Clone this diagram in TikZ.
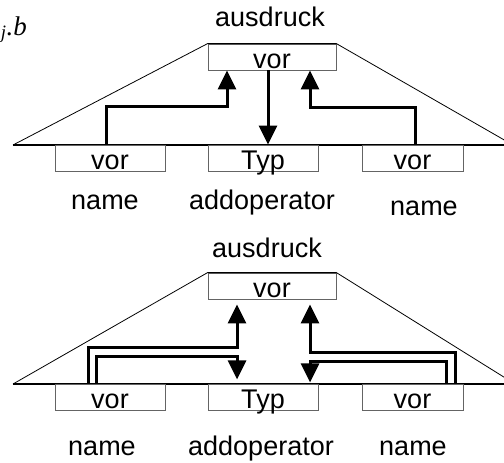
\documentclass[tikz,border=0pt]{standalone}
\usepackage{fontspec}
\setmainfont{Liberation Sans}
\newfontfamily\serifit{Liberation Serif}
\usetikzlibrary{arrows.meta, calc}
\definecolor{boxgray}{RGB}{100,100,100}

\begin{document}
\begin{tikzpicture}[
				x=1pt, y=-1pt,
				slot/.style={rectangle, draw=boxgray, line width=0.8pt, minimum height=26pt, inner sep=0pt, text height=22pt, text depth=0pt, font=\fontsize{27}{30}\selectfont},
				nametext/.style={inner sep=0pt, anchor=base, font=\fontsize{27}{30}\selectfont},
				flow/.style={-{Triangle[length=19pt,width=18pt]}, line width=3pt},
				edge/.style={line width=0.8pt},
				ground/.style={line width=1.5pt}
			]
			\useasboundingbox (0,0) rectangle (504,463);

			% Fragment at the left edge
			\node (frag) [inner sep=0pt, anchor=base east, font=\fontsize{27}{30}\selectfont\serifit\itshape] at (27,35) {\textsubscript{j}.b};

			% Upper tree: ausdruck
			\node (ausdruckA) [nametext] at (270,27) {ausdruck};
			\node (vorTA) [slot, minimum width=128pt] at (272,57) {vor};
			\coordinate (baseLA) at (13,145);
			\coordinate (baseRA) at (513,145);
			\draw [edge] (baseLA) -- (vorTA.north west) -- (vorTA.north east) -- (baseRA);
			\draw [ground] (baseLA) -- (baseRA);

			% Upper tree: children
			\node (vorLA) [slot, minimum width=110pt] at (110,158) {vor};
			\node (typA) [slot, minimum width=110pt] at (263,158) {Typ};
			\node (vorRA) [slot, minimum width=101pt] at (412.5,158) {vor};
			\node (nameLA) [nametext] at (105,209) {name};
			\node (addopA) [nametext] at (262,209) {addoperator};
			\node (nameRA) [nametext] at (424,215) {name};

			% Upper tree: attribute flow
			\coordinate (midA) at ($(vorTA.south)+(-4,0)$);
			\draw [flow] ($(vorLA.north)+(-4,0)$) |- ($(vorTA.south)+(-45,36)$) -- ($(vorTA.south)+(-45,0)$);
			\draw [flow] (midA) -- (midA |- typA.north);
			\draw [flow] ($(vorRA.north)+(2.5,0)$) |- ($(vorTA.south)+(38,37)$) -- ($(vorTA.south)+(38,0)$);

			% Lower tree: ausdruck
			\node (ausdruckB) [nametext] at (267,257) {ausdruck};
			\node (vorTB) [slot, minimum width=128pt] at (272,286) {vor};
			\coordinate (baseLB) at (13,384);
			\coordinate (baseRB) at (515,384);
			\draw [edge] (baseLB) -- (vorTB.north west) -- (vorTB.north east) -- (baseRB);
			\draw [ground] (baseLB) -- (baseRB);

			% Lower tree: children
			\node (vorLB) [slot, minimum width=110pt] at (110,397) {vor};
			\node (typB) [slot, minimum width=110pt] at (263,397) {Typ};
			\node (vorRB) [slot, minimum width=101pt] at (412.5,397) {vor};
			\node (nameLB) [nametext] at (102,455) {name};
			\node (addopB) [nametext] at (261,455) {addoperator};
			\node (nameRB) [nametext] at (413,455) {name};

			% Lower tree: attribute flow (up and back down)
			\draw [flow] ($(vorLB.north)+(-22,0)$) |- ($(vorTB.south)+(-35,48)$) -- ($(vorTB.south)+(-35,5)$);
			\draw [flow] ($(vorLB.north)+(-14,0)$) |- ($(vorTB.south)+(-35,57)$) -- ($(vorTB.south)+(-35,80)$);
			\draw [flow] ($(vorRB.north)+(42.5,0)$) |- ($(vorTB.south)+(38,53)$) -- ($(vorTB.south)+(38,5)$);
			\draw [flow] ($(vorRB.north)+(33.5,0)$) |- ($(vorTB.south)+(38,62)$) -- ($(vorTB.south)+(38,83)$);

		\end{tikzpicture}
\end{document}
